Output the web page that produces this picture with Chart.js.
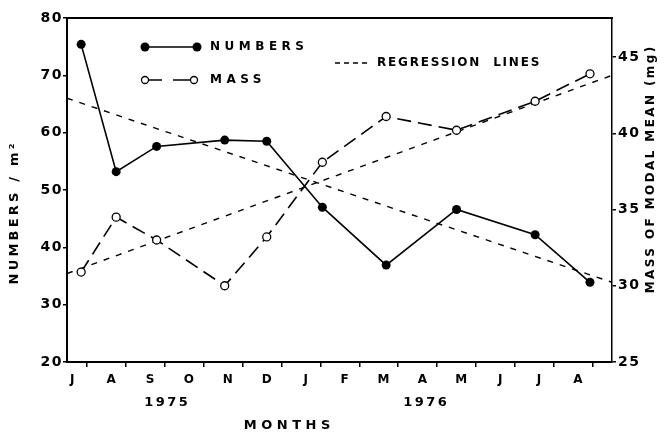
<html>
<head>
	<title>Numbers and mass</title>
	<script src="https://cdn.jsdelivr.net/npm/chart.js"></script>
	<style>
		body { margin: 0; background: #fff; }
	</style>
</head>
<body>
	<canvas id="chart" width="665" height="433"></canvas>
</body>
<script>
    // month letters, Jul 1975 .. Aug 1976
    const monthLabels = ['J', 'A', 'S', 'O', 'N', 'D', 'J', 'F', 'M', 'A', 'M', 'J', 'J', 'A'];

    // sampling dates, in months since 1 July 1975
    const sampleMonths = [0.85, 1.75, 2.79, 4.54, 5.62, 7.05, 8.69, 10.5, 12.52, 13.93];

    const numbers = [75.4, 53.2, 57.6, 58.7, 58.5, 47.0, 36.9, 46.6, 42.2, 33.9]; // per m2
    const mass = [30.9, 34.5, 33.0, 30.0, 33.2, 38.1, 41.1, 40.2, 42.1, 43.9];    // mg

    // regression lines, end points
    const regMonths = [0.486, 14.496];
    const numbersReg = [66.0, 33.9];
    const massReg = [30.8, 43.8];

    const leftTicks = [20, 30, 40, 50, 60, 70, 80];
    const rightTicks = [25, 30, 35, 40, 45];

    const pts = (xs, ys) => xs.map((x, i) => ({ x, y: ys[i] }));
    const bold = (size) => ({ family: 'DejaVu Sans', weight: 'bold', size });

    const spacing = {
        id: 'spacing',
        beforeUpdate: (chart) => { chart.ctx.letterSpacing = '1.5px'; },
        beforeDraw: (chart) => { chart.ctx.letterSpacing = '1.5px'; }
    };

    const text = (ctx, str, x, y, size, sp, align, rot) => {
        ctx.save();
        ctx.font = `bold ${size}px "DejaVu Sans"`;
        ctx.letterSpacing = sp + 'px';
        ctx.fillStyle = '#000';
        ctx.textBaseline = 'middle';
        ctx.textAlign = align || 'left';
        ctx.translate(x, y);
        if (rot) ctx.rotate(rot);
        ctx.fillText(str, align === 'center' ? sp / 2 : 0, 0);
        ctx.restore();
    };

    const extras = {
        id: 'extras',
        afterDraw: (chart) => {
            const ctx = chart.ctx;

            // legend
            ctx.save();
            ctx.strokeStyle = '#000';
            ctx.fillStyle = '#000';
            ctx.lineWidth = 1.6;
            ctx.beginPath(); ctx.moveTo(145, 47); ctx.lineTo(197, 47); ctx.stroke();
            [145, 197].forEach(cx => { ctx.beginPath(); ctx.arc(cx, 47, 4.5, 0, Math.PI * 2); ctx.fill(); });

            ctx.lineWidth = 1.6;
            ctx.beginPath(); ctx.moveTo(149, 80); ctx.lineTo(162, 80); ctx.moveTo(173, 80); ctx.lineTo(190, 80); ctx.stroke();
            ctx.lineWidth = 1.3;
            ctx.fillStyle = '#fff';
            [145, 194].forEach(cx => { ctx.beginPath(); ctx.arc(cx, 80, 3.5, 0, Math.PI * 2); ctx.fill(); ctx.stroke(); });

            ctx.lineWidth = 1.4;
            ctx.setLineDash([5, 4]);
            ctx.beginPath(); ctx.moveTo(335, 63); ctx.lineTo(370, 63); ctx.stroke();
            ctx.restore();

            text(ctx, 'NUMBERS', 210, 47, 12, 4.5);
            text(ctx, 'MASS', 210, 80, 12, 4.5);
            text(ctx, 'REGRESSION  LINES', 377, 63, 12, 1.8);

            // year and axis titles
            text(ctx, '1975', 166, 403, 13, 2.5, 'center');
            text(ctx, '1976', 425, 403, 13, 2.5, 'center');
            text(ctx, 'MONTHS', 287, 426, 13, 4.5, 'center');
            text(ctx, 'NUMBERS / m²', 15, 214, 13, 3.2, 'center', -Math.PI / 2);
            text(ctx, 'MASS OF MODAL MEAN (mg)', 651, 170, 12, 2.4, 'center', -Math.PI / 2);
        }
    };

    new Chart(document.getElementById('chart'), {
        type: 'line',
        data: {
            datasets: [
                {
                    data: pts(sampleMonths, numbers),
                    yAxisID: 'y',
                    borderColor: '#000',
                    borderWidth: 1.6,
                    pointRadius: 4.5,
                    pointBackgroundColor: '#000',
                    pointBorderColor: '#000',
                    pointBorderWidth: 0
                },
                {
                    data: pts(sampleMonths, mass),
                    yAxisID: 'y1',
                    borderColor: '#000',
                    borderWidth: 1.6,
                    borderDash: [14, 7],
                    pointRadius: 4,
                    pointBackgroundColor: '#fff',
                    pointBorderColor: '#000',
                    pointBorderWidth: 1.3
                },
                {
                    data: pts(regMonths, numbersReg),
                    yAxisID: 'y',
                    borderColor: '#000',
                    borderWidth: 1.4,
                    borderDash: [6, 7],
                    pointRadius: 0
                },
                {
                    data: pts(regMonths, massReg),
                    yAxisID: 'y1',
                    borderColor: '#000',
                    borderWidth: 1.4,
                    borderDash: [6, 7],
                    pointRadius: 0
                }
            ]
        },
        options: {
            responsive: false,
            animation: false,
            devicePixelRatio: 1,
            layout: { padding: { top: 18, left: 0, right: 0, bottom: 0 } },
            plugins: { legend: { display: false }, tooltip: { enabled: false } },
            elements: { line: { tension: 0 } },
            scales: {
                x: {
                    type: 'linear',
                    position: 'bottom',
                    min: 0.486,
                    max: 14.496,
                    afterBuildTicks: (s) => { s.ticks = monthLabels.map((_, i) => ({ value: i + 1 })); },
                    afterFit: (s) => { s.height = 71; },
                    ticks: {
                        callback: (v, i) => monthLabels[i],
                        labelOffset: -14,
                        font: bold(12),
                        color: '#000',
                        padding: 6,
                        autoSkip: false,
                        maxRotation: 0
                    },
                    grid: { drawOnChartArea: false, tickLength: 5, color: '#000', lineWidth: 1.5 },
                    border: { color: '#000', width: 2 }
                },
                xTop: {
                    type: 'linear',
                    position: 'top',
                    min: 0.486,
                    max: 14.496,
                    afterFit: (s) => { s.height = 0; },
                    ticks: { display: false },
                    grid: { display: false },
                    border: { color: '#000', width: 2 }
                },
                y: {
                    position: 'left',
                    min: 20,
                    max: 80,
                    afterBuildTicks: (s) => { s.ticks = leftTicks.map(value => ({ value })); },
                    afterFit: (s) => { s.width = 67; },
                    ticks: { font: bold(14), color: '#000', padding: 0 },
                    grid: { drawOnChartArea: false, tickLength: 4, color: '#000', lineWidth: 1.5 },
                    border: { color: '#000', width: 2 }
                },
                y1: {
                    position: 'right',
                    min: 25,
                    max: 47.56,
                    afterBuildTicks: (s) => { s.ticks = rightTicks.map(value => ({ value })); },
                    afterFit: (s) => { s.width = 53; },
                    ticks: { font: bold(14), color: '#000', padding: 2 },
                    grid: { drawOnChartArea: false, tickLength: 4, color: '#000', lineWidth: 1.5 },
                    border: { color: '#000', width: 1.5 }
                }
            }
        },
        plugins: [spacing, extras]
    });
</script>
</html>
